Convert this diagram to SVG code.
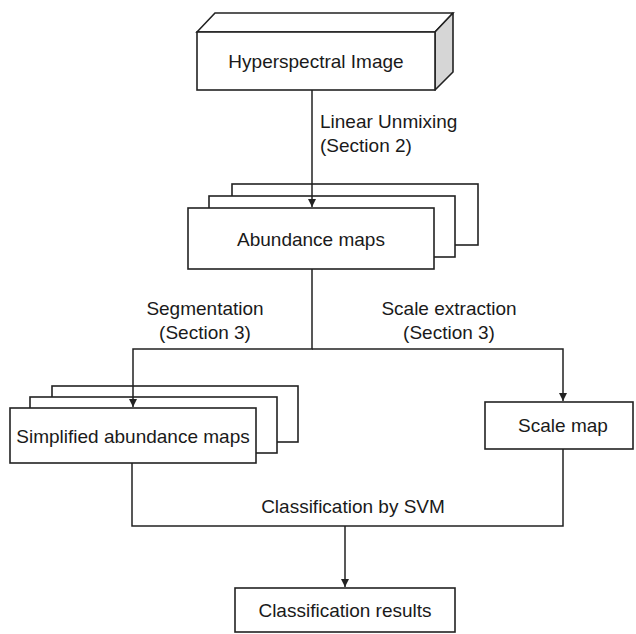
<svg xmlns="http://www.w3.org/2000/svg" width="636" height="634" viewBox="0 0 636 634">
<defs>
<style>
.box{fill:#fff;stroke:#222;stroke-width:1.6}
.side{fill:#d6d6d6;stroke:#222;stroke-width:1.6;stroke-linejoin:round}
.ln{fill:none;stroke:#222;stroke-width:1.5}
text{font-family:"Liberation Sans",Arial,sans-serif;font-size:19px;fill:#1a1a1a}
.c{text-anchor:middle}
</style>
<marker id="ah" viewBox="0 0 10 10" refX="10" refY="5" markerWidth="8" markerHeight="8" markerUnits="userSpaceOnUse" orient="auto">
<path d="M0,0 L10,5 L0,10 Z" fill="#222"/>
</marker>
</defs>
<rect width="636" height="634" fill="#fff"/>
<g id="hyperspectral">
<path class="box" d="M197,32 L215,13 L453,13 L435,32 Z"/>
<path class="side" d="M435,32 L453,13 L453,72 L435,90 Z"/>
<rect class="box" x="197" y="32" width="238" height="58"/>
<text class="c" x="316" y="68">Hyperspectral Image</text>
</g>
<g id="label-unmixing">
<text x="320" y="128">Linear Unmixing</text>
<text x="320" y="152">(Section 2)</text>
</g>
<g id="abundance">
<rect class="box" x="232" y="184" width="246" height="61"/>
<rect class="box" x="209" y="196" width="246" height="61"/>
<rect class="box" x="188" y="208" width="246" height="61"/>
<text class="c" x="311" y="246">Abundance maps</text>
</g>
<g id="label-segmentation">
<text class="c" x="205" y="315">Segmentation</text>
<text class="c" x="205" y="339">(Section 3)</text>
</g>
<g id="label-scale">
<text class="c" x="449" y="315">Scale extraction</text>
<text class="c" x="449" y="339">(Section 3)</text>
</g>
<g id="simplified">
<rect class="box" x="52" y="386" width="246" height="56"/>
<rect class="box" x="30" y="397" width="247" height="56"/>
<rect class="box" x="10" y="408" width="246" height="55"/>
<text class="c" x="133" y="443">Simplified abundance maps</text>
</g>
<g id="scalemap">
<rect class="box" x="485" y="402" width="148" height="47"/>
<text class="c" x="563" y="432">Scale map</text>
</g>
<g id="label-svm">
<text class="c" x="353" y="513">Classification by SVM</text>
</g>
<g id="results">
<rect class="box" x="235" y="588" width="220" height="44"/>
<text class="c" x="345" y="617">Classification results</text>
</g>
<g id="connectors">
<path class="ln" d="M312,90 V207" marker-end="url(#ah)"/>
<path class="ln" d="M312,269 V349 H133 V407" marker-end="url(#ah)"/>
<path class="ln" d="M312,349 H563 V401" marker-end="url(#ah)"/>
<path class="ln" d="M132,463 V526 H563 V449"/>
<path class="ln" d="M345,526 V587" marker-end="url(#ah)"/>
</g>
</svg>
